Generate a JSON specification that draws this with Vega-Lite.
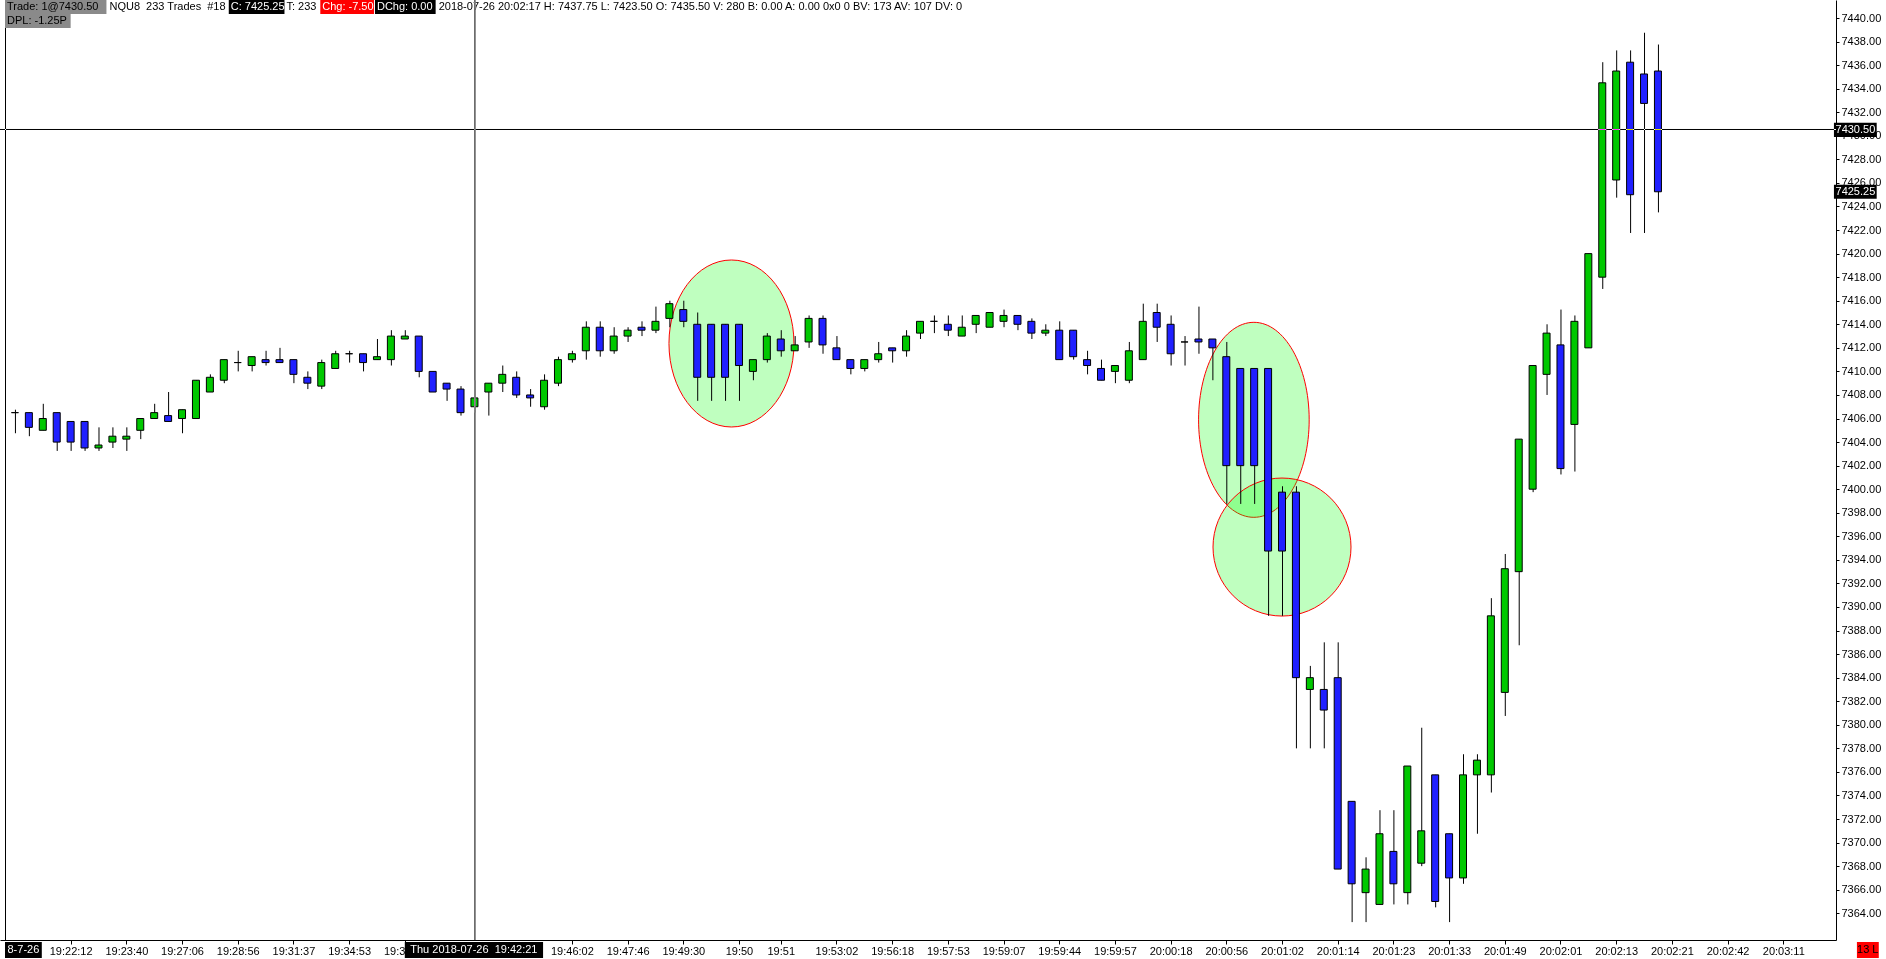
{
  "$schema": "https://vega.github.io/schema/vega-lite/v6.json",
  "width": 1836,
  "height": 940,
  "autosize": {"type": "none"},
  "padding": {"left": 0, "top": 0, "right": 50, "bottom": 19},
  "background": "white",
  "config": {"view": {"stroke": null}, "font": "Liberation Sans", "axis": {"labelOverlap": false, "labelSeparation": 0}, "axisY": {"labelOverlap": false}, "axisRight": {"labelOverlap": false}},
  "resolve": {"axis": {"x": "independent", "y": "independent"}},
  "datasets": {
    "bars": [
      {"i":0,"o":7406.5,"h":7406.75,"l":7404.75,"c":7406.5},
      {"i":1,"o":7406.5,"h":7406.5,"l":7404.5,"c":7405.25},
      {"i":2,"o":7405.0,"h":7407.25,"l":7405.0,"c":7406.0},
      {"i":3,"o":7406.5,"h":7406.5,"l":7403.25,"c":7404.0},
      {"i":4,"o":7405.75,"h":7405.75,"l":7403.25,"c":7404.0},
      {"i":5,"o":7405.75,"h":7405.75,"l":7403.25,"c":7403.5},
      {"i":6,"o":7403.5,"h":7405.25,"l":7403.25,"c":7403.75},
      {"i":7,"o":7404.0,"h":7405.25,"l":7403.5,"c":7404.5},
      {"i":8,"o":7404.25,"h":7405.25,"l":7403.25,"c":7404.5},
      {"i":9,"o":7405.0,"h":7406.0,"l":7404.25,"c":7406.0},
      {"i":10,"o":7406.0,"h":7407.25,"l":7406.0,"c":7406.5},
      {"i":11,"o":7406.25,"h":7408.25,"l":7405.75,"c":7405.75},
      {"i":12,"o":7406.0,"h":7406.75,"l":7404.75,"c":7406.75},
      {"i":13,"o":7406.0,"h":7409.25,"l":7406.0,"c":7409.25},
      {"i":14,"o":7408.25,"h":7409.75,"l":7408.25,"c":7409.5},
      {"i":15,"o":7409.25,"h":7411.0,"l":7409.0,"c":7411.0},
      {"i":16,"o":7410.75,"h":7411.75,"l":7410.0,"c":7410.75},
      {"i":17,"o":7410.5,"h":7411.25,"l":7410.0,"c":7411.25},
      {"i":18,"o":7411.0,"h":7411.75,"l":7410.5,"c":7410.75},
      {"i":19,"o":7411.0,"h":7412.0,"l":7410.75,"c":7410.75},
      {"i":20,"o":7411.0,"h":7411.0,"l":7409.0,"c":7409.75},
      {"i":21,"o":7409.5,"h":7410.0,"l":7408.5,"c":7409.0},
      {"i":22,"o":7408.75,"h":7411.0,"l":7408.5,"c":7410.75},
      {"i":23,"o":7410.25,"h":7411.75,"l":7410.25,"c":7411.5},
      {"i":24,"o":7411.5,"h":7411.75,"l":7410.75,"c":7411.5},
      {"i":25,"o":7411.5,"h":7411.5,"l":7410.0,"c":7410.75},
      {"i":26,"o":7411.0,"h":7412.75,"l":7411.0,"c":7411.25},
      {"i":27,"o":7411.0,"h":7413.5,"l":7410.5,"c":7413.0},
      {"i":28,"o":7412.75,"h":7413.5,"l":7412.75,"c":7413.0},
      {"i":29,"o":7413.0,"h":7413.0,"l":7409.5,"c":7410.0},
      {"i":30,"o":7410.0,"h":7410.0,"l":7408.25,"c":7408.25},
      {"i":31,"o":7409.0,"h":7409.0,"l":7407.5,"c":7408.5},
      {"i":32,"o":7408.5,"h":7408.75,"l":7406.25,"c":7406.5},
      {"i":33,"o":7407.0,"h":7409.25,"l":7406.5,"c":7407.75},
      {"i":34,"o":7408.25,"h":7409.0,"l":7406.25,"c":7409.0},
      {"i":35,"o":7409.0,"h":7410.5,"l":7408.25,"c":7409.75},
      {"i":36,"o":7409.5,"h":7410.0,"l":7407.75,"c":7408.0},
      {"i":37,"o":7408.0,"h":7408.5,"l":7407.0,"c":7407.75},
      {"i":38,"o":7407.0,"h":7409.75,"l":7406.75,"c":7409.25},
      {"i":39,"o":7409.0,"h":7411.25,"l":7408.75,"c":7411.0},
      {"i":40,"o":7411.0,"h":7411.75,"l":7410.75,"c":7411.5},
      {"i":41,"o":7411.75,"h":7414.25,"l":7411.0,"c":7413.75},
      {"i":42,"o":7413.75,"h":7414.25,"l":7411.25,"c":7411.75},
      {"i":43,"o":7411.75,"h":7413.75,"l":7411.5,"c":7413.0},
      {"i":44,"o":7413.0,"h":7413.75,"l":7412.5,"c":7413.5},
      {"i":45,"o":7413.75,"h":7414.25,"l":7413.0,"c":7413.5},
      {"i":46,"o":7413.5,"h":7415.5,"l":7413.25,"c":7414.25},
      {"i":47,"o":7414.5,"h":7416.0,"l":7413.75,"c":7415.75},
      {"i":48,"o":7415.25,"h":7416.0,"l":7413.75,"c":7414.25},
      {"i":49,"o":7414.0,"h":7415.0,"l":7407.5,"c":7409.5},
      {"i":50,"o":7414.0,"h":7414.0,"l":7407.5,"c":7409.5},
      {"i":51,"o":7414.0,"h":7414.0,"l":7407.5,"c":7409.5},
      {"i":52,"o":7414.0,"h":7414.0,"l":7407.5,"c":7410.5},
      {"i":53,"o":7410.0,"h":7411.0,"l":7409.25,"c":7411.0},
      {"i":54,"o":7411.0,"h":7413.25,"l":7410.75,"c":7413.0},
      {"i":55,"o":7412.75,"h":7413.5,"l":7411.25,"c":7411.75},
      {"i":56,"o":7411.75,"h":7413.0,"l":7411.75,"c":7412.25},
      {"i":57,"o":7412.5,"h":7414.75,"l":7412.0,"c":7414.5},
      {"i":58,"o":7414.5,"h":7414.75,"l":7411.5,"c":7412.25},
      {"i":59,"o":7412.0,"h":7413.0,"l":7411.0,"c":7411.0},
      {"i":60,"o":7411.0,"h":7411.0,"l":7409.75,"c":7410.25},
      {"i":61,"o":7410.25,"h":7411.0,"l":7410.0,"c":7411.0},
      {"i":62,"o":7411.0,"h":7412.5,"l":7410.75,"c":7411.5},
      {"i":63,"o":7412.0,"h":7412.0,"l":7410.75,"c":7411.75},
      {"i":64,"o":7411.75,"h":7413.5,"l":7411.25,"c":7413.0},
      {"i":65,"o":7413.25,"h":7414.25,"l":7412.75,"c":7414.25},
      {"i":66,"o":7414.25,"h":7414.75,"l":7413.25,"c":7414.25},
      {"i":67,"o":7414.0,"h":7414.75,"l":7413.0,"c":7413.5},
      {"i":68,"o":7413.0,"h":7414.75,"l":7413.0,"c":7413.75},
      {"i":69,"o":7414.0,"h":7414.75,"l":7413.25,"c":7414.75},
      {"i":70,"o":7413.75,"h":7415.0,"l":7413.75,"c":7415.0},
      {"i":71,"o":7414.25,"h":7415.25,"l":7413.75,"c":7414.75},
      {"i":72,"o":7414.75,"h":7414.75,"l":7413.5,"c":7414.0},
      {"i":73,"o":7414.25,"h":7414.5,"l":7412.75,"c":7413.25},
      {"i":74,"o":7413.25,"h":7414.0,"l":7413.0,"c":7413.5},
      {"i":75,"o":7413.5,"h":7414.25,"l":7411.0,"c":7411.0},
      {"i":76,"o":7413.5,"h":7413.5,"l":7411.0,"c":7411.25},
      {"i":77,"o":7411.0,"h":7411.75,"l":7409.75,"c":7410.5},
      {"i":78,"o":7410.25,"h":7411.0,"l":7409.25,"c":7409.25},
      {"i":79,"o":7410.0,"h":7410.5,"l":7409.0,"c":7410.5},
      {"i":80,"o":7409.25,"h":7412.5,"l":7409.0,"c":7411.75},
      {"i":81,"o":7411.0,"h":7415.75,"l":7411.0,"c":7414.25},
      {"i":82,"o":7415.0,"h":7415.75,"l":7412.5,"c":7413.75},
      {"i":83,"o":7414.0,"h":7414.75,"l":7410.5,"c":7411.5},
      {"i":84,"o":7412.5,"h":7413.0,"l":7410.5,"c":7412.5},
      {"i":85,"o":7412.75,"h":7415.5,"l":7411.5,"c":7412.5},
      {"i":86,"o":7412.75,"h":7412.75,"l":7409.25,"c":7412.0},
      {"i":87,"o":7411.25,"h":7412.5,"l":7398.75,"c":7402.0},
      {"i":88,"o":7410.25,"h":7410.25,"l":7398.75,"c":7402.0},
      {"i":89,"o":7410.25,"h":7410.25,"l":7398.75,"c":7402.0},
      {"i":90,"o":7410.25,"h":7410.25,"l":7389.25,"c":7394.75},
      {"i":91,"o":7399.75,"h":7400.25,"l":7389.25,"c":7394.75},
      {"i":92,"o":7399.75,"h":7400.25,"l":7378.0,"c":7384.0},
      {"i":93,"o":7383.0,"h":7385.0,"l":7378.0,"c":7384.0},
      {"i":94,"o":7383.0,"h":7387.0,"l":7378.0,"c":7381.25},
      {"i":95,"o":7384.0,"h":7387.0,"l":7367.75,"c":7367.75},
      {"i":96,"o":7373.5,"h":7373.5,"l":7363.25,"c":7366.5},
      {"i":97,"o":7365.75,"h":7368.75,"l":7363.25,"c":7367.75},
      {"i":98,"o":7364.75,"h":7372.75,"l":7364.75,"c":7370.75},
      {"i":99,"o":7369.25,"h":7372.75,"l":7364.75,"c":7366.5},
      {"i":100,"o":7365.75,"h":7376.5,"l":7364.75,"c":7376.5},
      {"i":101,"o":7368.25,"h":7379.75,"l":7368.0,"c":7371.0},
      {"i":102,"o":7375.75,"h":7375.75,"l":7364.5,"c":7365.0},
      {"i":103,"o":7370.75,"h":7370.75,"l":7363.25,"c":7367.0},
      {"i":104,"o":7367.0,"h":7377.5,"l":7366.5,"c":7375.75},
      {"i":105,"o":7375.75,"h":7377.5,"l":7370.75,"c":7377.0},
      {"i":106,"o":7375.75,"h":7390.75,"l":7374.25,"c":7389.25},
      {"i":107,"o":7382.75,"h":7394.5,"l":7380.75,"c":7393.25},
      {"i":108,"o":7393.0,"h":7404.25,"l":7386.75,"c":7404.25},
      {"i":109,"o":7400.0,"h":7410.5,"l":7399.75,"c":7410.5},
      {"i":110,"o":7409.75,"h":7414.0,"l":7408.0,"c":7413.25},
      {"i":111,"o":7412.25,"h":7415.25,"l":7401.25,"c":7401.75},
      {"i":112,"o":7405.5,"h":7414.75,"l":7401.5,"c":7414.25},
      {"i":113,"o":7412.0,"h":7420.0,"l":7412.0,"c":7420.0},
      {"i":114,"o":7418.0,"h":7436.25,"l":7417.0,"c":7434.5},
      {"i":115,"o":7426.25,"h":7437.25,"l":7424.75,"c":7435.5},
      {"i":116,"o":7436.25,"h":7437.25,"l":7421.75,"c":7425.0},
      {"i":117,"o":7435.25,"h":7438.75,"l":7421.75,"c":7432.75},
      {"i":118,"o":7435.5,"h":7437.75,"l":7423.5,"c":7425.25}
    ],
    "boxes": [
      {"tag":"trade","x1":-0.7142857,"x2":6.571,"y1":7441.53,"y2":7440.341},
      {"tag":"close","x1":15.357,"x2":19.357,"y1":7441.53,"y2":7440.341},
      {"tag":"change","x1":21.93,"x2":25.786,"y1":7441.53,"y2":7440.341},
      {"tag":"daychange","x1":25.857,"x2":30.214,"y1":7441.53,"y2":7440.341},
      {"tag":"dpl","x1":-0.7142857,"x2":4.0,"y1":7440.341,"y2":7439.153},
      {"tag":"pricetag","x1":130.64,"x2":133.71,"y1":7429.9,"y2":7431.1},
      {"tag":"lasttag","x1":130.64,"x2":133.71,"y1":7424.65,"y2":7425.85},
      {"tag":"timetag","x1":28.0,"x2":37.93,"y1":7361.56,"y2":7360.2},
      {"tag":"datetag","x1":-0.7142857,"x2":1.929,"y1":7361.56,"y2":7360.2},
      {"tag":"count","x1":132.29,"x2":133.86,"y1":7361.56,"y2":7360.2}
    ],
    "header": [
      {"tag":"trade","x":-0.571,"y":7440.936,"text":"Trade: 1@7430.50"},
      {"tag":"instrument","x":6.786,"y":7440.936,"text":"NQU8\u00a0 233 Trades\u00a0 #18"},
      {"tag":"close","x":15.5,"y":7440.936,"text":"C: 7425.25"},
      {"tag":"trades","x":19.5,"y":7440.936,"text":"T: 233"},
      {"tag":"change","x":22.07,"y":7440.936,"text":"Chg: -7.50"},
      {"tag":"daychange","x":26.0,"y":7440.936,"text":"DChg: 0.00"},
      {"tag":"quote","x":30.43,"y":7440.936,"text":"2018-07-26 20:02:17 H: 7437.75 L: 7423.50 O: 7435.50 V: 280 B: 0.00 A: 0.00 0x0 0 BV: 173 AV: 107 DV: 0"},
      {"tag":"dpl","x":-0.571,"y":7439.747,"text":"DPL: -1.25P"}
    ],
    "tags": [
      {"tag":"pricetag","x":132.18,"y":7430.5,"text":"7430.50"},
      {"tag":"lasttag","x":132.18,"y":7425.25,"text":"7425.25"},
      {"tag":"timetag","x":32.96,"y":7360.88,"text":"Thu 2018-07-26\u00a0 19:42:21"},
      {"tag":"datetag","x":0.607,"y":7360.88,"text":"8-7-26"},
      {"tag":"count","x":133.07,"y":7360.88,"text":"13 L"}
    ]
  },
  "layer": [
    {
      "data": {"values": [{"i": 51.46, "p": 7412.37}]},
      "mark": {"type": "point", "shape": "M 0.7485 0 C 0.7485 0.5523 0.4134 1 0 1 C -0.4134 1 -0.7485 0.5523 -0.7485 0 C -0.7485 -0.5523 -0.4134 -1 0 -1 C 0.4134 -1 0.7485 -0.5523 0.7485 0 Z", "size": 27889, "filled": true, "fill": "#00ff00", "fillOpacity": 0.25, "stroke": "#ff0000", "strokeWidth": 1, "strokeOpacity": 1, "opacity": 1},
      "encoding": {
        "x": {"field": "i", "type": "quantitative", "title": null, "scale": {"domain": [-0.7142857, 130.4285714], "nice": false, "zero": false},
          "axis": {"orient": "bottom", "grid": false, "domainColor": "black", "tickColor": "black", "tickSize": 4, "labelPadding": 1, "labelFont": "Liberation Sans", "labelFontSize": 11, "labelColor": "black", "labelFlush": false, "labelOverlap": false,
            "values": [4,8,12,16,20,24,28,40,44,48,52,55,59,63,67,71,75,79,83,87,91,95,99,103,107,111,115,119,123,127],
            "labelExpr": "['19:22:12','19:23:40','19:27:06','19:28:56','19:31:37','19:34:53','19:38:25','19:46:02','19:47:46','19:49:30','19:50','19:51','19:53:02','19:56:18','19:57:53','19:59:07','19:59:44','19:59:57','20:00:18','20:00:56','20:01:02','20:01:14','20:01:23','20:01:33','20:01:49','20:02:01','20:02:13','20:02:21','20:02:42','20:03:11'][indexof([4,8,12,16,20,24,28,40,44,48,52,55,59,63,67,71,75,79,83,87,91,95,99,103,107,111,115,119,123,127], datum.value)]"}},
        "y": {"field": "p", "type": "quantitative", "title": null, "scale": {"domain": [7361.73, 7441.53], "nice": false, "zero": false},
          "axis": {"orient": "right", "grid": false, "domainColor": "black", "tickColor": "black", "tickSize": 3, "labelPadding": 2, "labelFont": "Liberation Sans", "labelFontSize": 11, "labelColor": "black", "labelFlush": false, "labelOverlap": false, "labelSeparation": 0, "format": ".2f",
            "values": [7364,7366,7368,7370,7372,7374,7376,7378,7380,7382,7384,7386,7388,7390,7392,7394,7396,7398,7400,7402,7404,7406,7408,7410,7412,7414,7416,7418,7420,7422,7424,7426,7428,7430,7432,7434,7436,7438,7440]}}
      }
    },
    {
      "data": {"values": [{"i": 88.98, "p": 7405.89}]},
      "mark": {"type": "point", "shape": "M 0.5672 0 C 0.5672 0.5523 0.3133 1 0 1 C -0.3133 1 -0.5672 0.5523 -0.5672 0 C -0.5672 -0.5523 -0.3133 -1 0 -1 C 0.3133 -1 0.5672 -0.5523 0.5672 0 Z", "size": 38025, "filled": true, "fill": "#00ff00", "fillOpacity": 0.25, "stroke": "#ff0000", "strokeWidth": 1, "strokeOpacity": 1, "opacity": 1},
      "encoding": {
        "x": {"field": "i", "type": "quantitative", "axis": null, "scale": {"domain": [-0.7142857, 130.4285714], "nice": false, "zero": false}},
        "y": {"field": "p", "type": "quantitative", "axis": null, "scale": {"domain": [7361.73, 7441.53], "nice": false, "zero": false}}
      }
    },
    {
      "data": {"values": [{"i": 91.0, "p": 7395.09}]},
      "mark": {"type": "point", "shape": "circle", "size": 19044, "filled": true, "fill": "#00ff00", "fillOpacity": 0.25, "stroke": "#ff0000", "strokeWidth": 1, "strokeOpacity": 1, "opacity": 1},
      "encoding": {
        "x": {"field": "i", "type": "quantitative", "axis": null, "scale": {"domain": [-0.7142857, 130.4285714], "nice": false, "zero": false}},
        "y": {"field": "p", "type": "quantitative", "axis": null, "scale": {"domain": [7361.73, 7441.53], "nice": false, "zero": false}}
      }
    },
    {
      "data": {"name": "bars"},
      "mark": {"type": "rule", "color": "black", "strokeWidth": 1, "xOffset": 0.5},
      "encoding": {
        "x": {"field": "i", "type": "quantitative", "axis": null, "scale": {"domain": [-0.7142857, 130.4285714], "nice": false, "zero": false}},
        "y": {"field": "l", "type": "quantitative", "axis": null, "scale": {"domain": [7361.73, 7441.53], "nice": false, "zero": false}},
        "y2": {"field": "h"}
      }
    },
    {
      "data": {"name": "bars"},
      "mark": {"type": "bar", "width": 7, "stroke": "black", "strokeWidth": 1, "opacity": 1},
      "encoding": {
        "x": {"field": "i", "type": "quantitative", "axis": null, "scale": {"domain": [-0.7142857, 130.4285714], "nice": false, "zero": false}},
        "y": {"field": "o", "type": "quantitative", "axis": null, "scale": {"domain": [7361.73, 7441.53], "nice": false, "zero": false}},
        "y2": {"field": "c"},
        "fill": {"condition": {"test": "datum.c >= datum.o", "value": "#00c800"}, "value": "#2020ff"}
      }
    },
    {
      "data": {"values": [{"i": -0.7142857}]},
      "mark": {"type": "rule", "color": "black", "strokeWidth": 1, "xOffset": 0.5},
      "encoding": {
        "x": {"field": "i", "type": "quantitative", "axis": null, "scale": {"domain": [-0.7142857, 130.4285714], "nice": false, "zero": false}}
      }
    },
    {
      "data": {"name": "boxes"},
      "mark": {"type": "rect"},
      "encoding": {
        "x": {"field": "x1", "type": "quantitative", "axis": null, "scale": {"domain": [-0.7142857, 130.4285714], "nice": false, "zero": false}},
        "x2": {"field": "x2"},
        "y": {"field": "y1", "type": "quantitative", "axis": null, "scale": {"domain": [7361.73, 7441.53], "nice": false, "zero": false}},
        "y2": {"field": "y2"},
        "color": {"field": "tag", "type": "nominal", "legend": null,
          "scale": {"domain": ["trade","close","change","daychange","dpl","pricetag","lasttag","timetag","datetag","count"],
                    "range": ["#8a8a8a","#000000","#ff0000","#000000","#8a8a8a","#000000","#000000","#000000","#000000","#ff0000"]}}
      }
    },
    {
      "data": {"name": "header"},
      "mark": {"type": "text", "align": "left", "baseline": "middle", "font": "Liberation Sans", "fontSize": 11},
      "encoding": {
        "x": {"field": "x", "type": "quantitative", "axis": null, "scale": {"domain": [-0.7142857, 130.4285714], "nice": false, "zero": false}},
        "y": {"field": "y", "type": "quantitative", "axis": null, "scale": {"domain": [7361.73, 7441.53], "nice": false, "zero": false}},
        "text": {"field": "text"},
        "fill": {"condition": {"test": "indexof(['close','change','daychange'], datum.tag) >= 0", "value": "white"}, "value": "black"}
      }
    },
    {
      "data": {"name": "tags"},
      "mark": {"type": "text", "align": "center", "baseline": "middle", "font": "Liberation Sans", "fontSize": 11},
      "encoding": {
        "x": {"field": "x", "type": "quantitative", "axis": null, "scale": {"domain": [-0.7142857, 130.4285714], "nice": false, "zero": false}},
        "y": {"field": "y", "type": "quantitative", "axis": null, "scale": {"domain": [7361.73, 7441.53], "nice": false, "zero": false}},
        "text": {"field": "text"},
        "fill": {"condition": {"test": "datum.tag == 'count'", "value": "black"}, "value": "white"}
      }
    },
    {
      "data": {"values": [{"p": 7430.5}]},
      "mark": {"type": "rule", "stroke": "white", "strokeWidth": 1, "blend": "difference", "yOffset": -0.43},
      "encoding": {
        "y": {"field": "p", "type": "quantitative", "axis": null, "scale": {"domain": [7361.73, 7441.53], "nice": false, "zero": false}}
      }
    },
    {
      "data": {"values": [{"i": 33}]},
      "mark": {"type": "rule", "stroke": "white", "strokeWidth": 1, "blend": "difference", "xOffset": 0.5},
      "encoding": {
        "x": {"field": "i", "type": "quantitative", "axis": null, "scale": {"domain": [-0.7142857, 130.4285714], "nice": false, "zero": false}}
      }
    }
  ]
}
